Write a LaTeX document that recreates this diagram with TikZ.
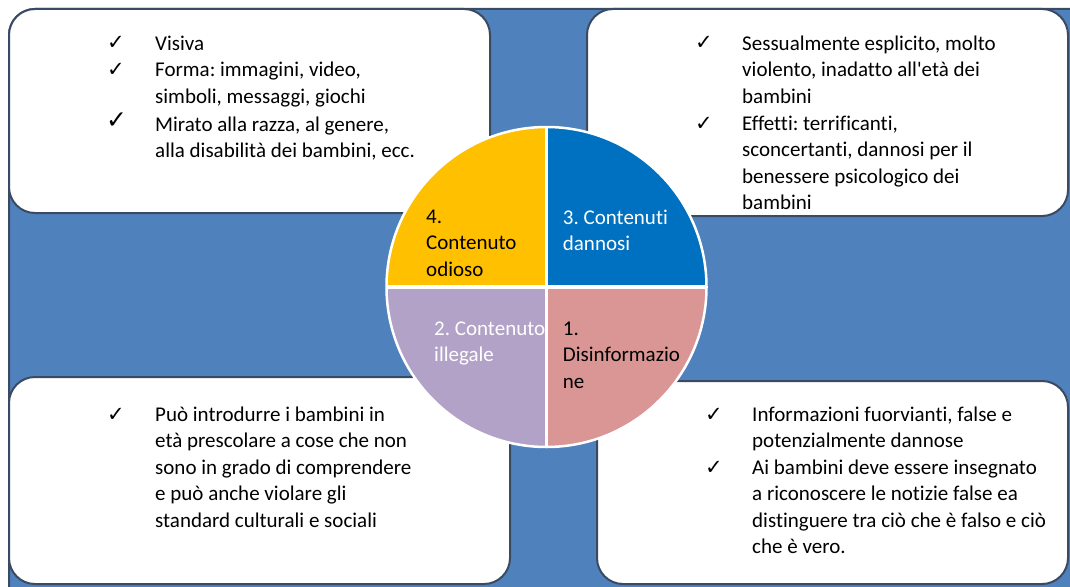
\documentclass[tikz,border=0pt]{standalone}
\usepackage{fontspec}
\setmainfont{Carlito}[Ligatures=NoCommon]
\newfontfamily\chkfont{DejaVu Sans}
\frenchspacing
\definecolor{bgblue}{HTML}{4F81BD}
\definecolor{edge}{HTML}{3A4A62}
\definecolor{qyellow}{HTML}{FFC000}
\definecolor{qblue}{HTML}{0070C0}
\definecolor{qpink}{HTML}{D99694}
\definecolor{qpurple}{HTML}{B3A2C7}
\newcommand{\fl}{\rule{0pt}{18pt}}
\tikzset{
  panel/.style={fill=white, draw=edge, line width=2pt, rounded corners=26pt},
  itemtext/.style={anchor=north west, inner sep=0pt, align=left, font=\fontsize{21}{26.5}\selectfont, text=black},
  chk/.style={anchor=base west, inner sep=0pt, font=\chkfont\fontsize{21}{21}\selectfont},
  bigchk/.style={anchor=base west, inner sep=0pt, font=\chkfont\fontsize{25}{25}\selectfont},
  qlabel/.style={anchor=north west, inner sep=0pt, align=left, font=\fontsize{21}{26.5}\selectfont},
  sep/.style={draw=white, line width=3.5pt},
}
\begin{document}
\begin{tikzpicture}[x=1pt,y=-1pt]
\useasboundingbox (0,0) rectangle (1070,586);
\begin{scope}
  \clip (0,0) rectangle (1070,586);
  \draw[fill=bgblue, draw=edge, line width=2pt, rounded corners=26pt] (9,9) rectangle (1110,620);
  % panels
  \draw[panel] (9,9) rectangle (490,213);
  \draw[panel] (587,9) rectangle (1068,216);
  \draw[panel] (9,377) rectangle (510,584);
  \draw[panel] (597,381) rectangle (1068,584);
\end{scope}

% circle
\coordinate (c) at (546.5,287);
\fill[qyellow] (c) -- ++(-160,0) arc[start angle=180, end angle=270, radius=160] -- cycle;
\fill[qblue]   (c) -- ++(0,-160) arc[start angle=270, end angle=360, radius=160] -- cycle;
\fill[qpink]   (c) -- ++(160,0) arc[start angle=0, end angle=90, radius=160] -- cycle;
\fill[qpurple] (c) -- ++(0,160) arc[start angle=90, end angle=180, radius=160] -- cycle;
\coordinate (ctop) at (546.5,127);
\coordinate (cbot) at (546.5,447);
\coordinate (cleft) at (386.5,287);
\coordinate (cright) at (706.5,287);
\draw[sep] (ctop) -- (cbot);
\draw[sep] (cleft) -- (cright);
\draw[draw=white, line width=2.5pt] (c) circle[radius=160];

% quadrant labels
\node[qlabel, text=black] (q4) at (426,205) {\fl 4.\\Contenuto\\odioso};
\node[qlabel, text=white] (q3) at (562.7,206) {\fl 3. Contenuti\\dannosi};
\node[qlabel, text=white] (q2) at (434,317) {\fl 2. Contenuto\\illegale};
\node[qlabel, text=black] (q1) at (562.7,317) {\fl 1.\\Disinformazio\\ne};

% top-left panel
\node[chk] (tlc1) at (107,50) {✓};
\node[chk] (tlc2) at (107,76.5) {✓};
\node[bigchk] (tlc3) at (106,128) {✓};
\node[itemtext] (tlt1) at (155,32) {\fl Visiva};
\node[itemtext] (tlt2) at (155,58.5) {\fl Forma: immagini, video,\\simboli, messaggi, giochi};
\node[itemtext] (tlt3) at (155,113) {\fl Mirato alla razza, al genere,\\alla disabilità dei bambini, ecc.};

% top-right panel
\node[chk] (trc1) at (695,50) {✓};
\node[chk] (trc2) at (695,130) {✓};
\node[itemtext] (trt1) at (742,32) {\fl Sessualmente esplicito, molto\\violento, inadatto all\textquotesingle età dei\\bambini};
\node[itemtext] (trt2) at (742,112) {\fl Effetti: terrificanti,\\sconcertanti, dannosi per il\\benessere psicologico dei\\bambini};

% bottom-left panel
\node[chk] (blc1) at (107,421) {✓};
\node[itemtext] (blt1) at (155,403) {\fl Può introdurre i bambini in\\età prescolare a cose che non\\sono in grado di comprendere\\e può anche violare gli\\standard culturali e sociali};

% bottom-right panel
\node[chk] (brc1) at (705,421) {✓};
\node[chk] (brc2) at (705,474) {✓};
\node[itemtext] (brt1) at (752,403) {\fl Informazioni fuorvianti, false e\\potenzialmente dannose};
\node[itemtext] (brt2) at (752,456) {\fl Ai bambini deve essere insegnato\\a riconoscere le notizie false ea\\distinguere tra ciò che è falso e ciò\\che è vero.};
\end{tikzpicture}
\end{document}
